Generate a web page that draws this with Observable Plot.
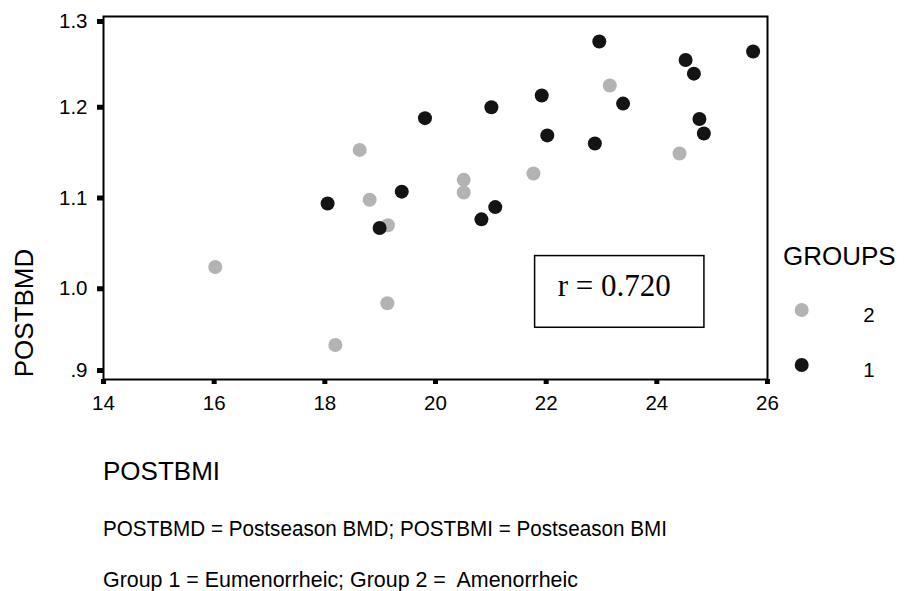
<!DOCTYPE html>
<html>
<head>
<meta charset="utf-8">
<script src="https://cdn.jsdelivr.net/npm/d3@7"></script>
<script src="https://cdn.jsdelivr.net/npm/@observablehq/plot@0.6"></script>
<style>
  body { margin: 0; background: #fff; }
  #wrap { position: relative; width: 907px; height: 591px; overflow: hidden; }
  #wrap svg { position: absolute; left: 0; top: 0; }
</style>
</head>
<body>
<div id="wrap"></div>
<script>
// ---- data ----
const group2BMI = [16.02, 18.63, 18.81, 19.14, 19.13, 18.19, 20.51, 20.51, 21.77, 23.15, 24.41];
const group2BMD = [1.024, 1.153, 1.098, 1.070, 0.984, 0.938, 1.120, 1.106, 1.127, 1.224, 1.149];
const group1BMI = [18.05, 19.39, 18.99, 19.81, 22.96, 25.74, 24.52, 24.67, 21.92, 23.39, 21.01, 24.77, 24.85, 22.02, 22.88, 21.08, 20.83];
const group1BMD = [1.094, 1.107, 1.067, 1.188, 1.2725, 1.2615, 1.252, 1.237, 1.213, 1.204, 1.200, 1.187, 1.171, 1.169, 1.160, 1.090, 1.0765];
const groupKeys = [2, 1];
const groupColors = ["#b3b3b3", "#141414"];
const xTicks = [14, 16, 18, 20, 22, 24, 26];
const yTicks = [0.9, 1.0, 1.1, 1.2, 1.3];
const yTickLabels = [".9", "1.0", "1.1", "1.2", "1.3"];
const rBox = [{x1: 21.80, x2: 24.86, y1: 0.957, y2: 1.036, tx: 23.23, ty: 1.003, label: "r = 0.720"}];
const xLabel = "POSTBMI";
const yLabel = "POSTBMD";
const legendTitle = "GROUPS";
const captions = ["POSTBMD = Postseason BMD; POSTBMI = Postseason BMI", "Group 1 = Eumenorrheic; Group 2 =  Amenorrheic"];

const points = [
  ...group2BMI.map((x, i) => ({bmi: x, bmd: group2BMD[i], group: 2})),
  ...group1BMI.map((x, i) => ({bmi: x, bmd: group1BMD[i], group: 1}))
];
const yFmt = d => yTickLabels[yTicks.findIndex(t => Math.abs(t - d) < 1e-9)];

const plot = Plot.plot({
  width: 907,
  height: 591,
  marginLeft: 103,
  marginTop: 16,
  marginRight: 140,
  marginBottom: 212,
  style: {fontFamily: "'Liberation Sans', Arial, sans-serif", fontSize: "20px", background: "transparent", color: "#000"},
  x: {domain: [14, 26]},
  y: {domain: [0.9, 1.3]},
  color: {domain: groupKeys, range: groupColors},
  marks: [
    Plot.axisX(xTicks, {tickSize: 5, strokeWidth: 5, tickPadding: 11, fontSize: 20.5, label: null}),
    Plot.axisY(yTicks.slice(1, 4), {tickSize: 6, strokeWidth: 5, tickPadding: 10, fontSize: 20.5, tickFormat: yFmt, label: null}),
    Plot.axisY([1.3], {tickSize: 6, strokeWidth: 5, tickPadding: 10, fontSize: 20.5, tickFormat: yFmt, label: null, dy: 5}),
    Plot.axisY([0.9], {tickSize: 6, strokeWidth: 5, tickPadding: 10, fontSize: 20.5, tickFormat: yFmt, label: null, dy: -9}),
    Plot.frame({stroke: "#000", strokeWidth: 2}),
    Plot.dot(points, {x: "bmi", y: "bmd", fill: "group", r: 7, stroke: "none"}),
    Plot.rect(rBox, {x1: "x1", x2: "x2", y1: "y1", y2: "y2", fill: "white", stroke: "#000", strokeWidth: 1.5}),
    Plot.text(rBox, {x: "tx", y: "ty", text: "label", fontFamily: "'Liberation Serif', 'Times New Roman', serif", fontSize: 31, textAnchor: "middle", lineAnchor: "middle", fill: "#000"})
  ]
});
const wrap = document.getElementById("wrap");
wrap.appendChild(plot);

// overlay: axis titles, legend, captions
const color = plot.scale("color");
const ov = d3.select(wrap).append("svg")
  .attr("width", 907).attr("height", 591)
  .style("font-family", "'Liberation Sans', Arial, sans-serif");

ov.append("text").text(yLabel)
  .attr("transform", "translate(33,313) rotate(-90)")
  .attr("text-anchor", "middle").attr("font-size", 26).attr("fill", "#000");

ov.append("text").text(xLabel)
  .attr("x", 103).attr("y", 480).attr("font-size", 26).attr("fill", "#000");

ov.append("text").text(legendTitle)
  .attr("x", 783).attr("y", 265).attr("font-size", 26).attr("fill", "#000");

const legY = [310, 365];
groupKeys.forEach((g, i) => {
  ov.append("circle").attr("cx", 801.7).attr("cy", legY[i]).attr("r", 7).attr("fill", color.apply(g));
  ov.append("text").text(String(g)).attr("x", 869).attr("y", legY[i] + 12)
    .attr("text-anchor", "middle").attr("font-size", 20.5).attr("fill", "#000");
});

const capY = [536, 587];
const capLen = [564, 475];
captions.forEach((c, i) => {
  ov.append("text").text(c).attr("x", 103).attr("y", capY[i])
    .style("white-space", "pre").attr("xml:space", "preserve")
    .attr("font-size", 21.5).attr("fill", "#000")
    .attr("textLength", capLen[i]).attr("lengthAdjust", "spacingAndGlyphs");
});
</script>
</body>
</html>
